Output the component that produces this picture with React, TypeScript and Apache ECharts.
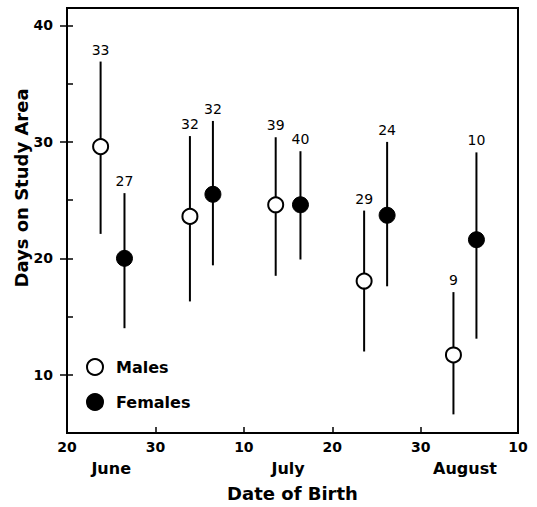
import React, { useEffect, useRef } from "react";
import * as echarts from "echarts";

// x value: June d = d, July d = 30 + d, August d = 61 + d
const maleDates = [23.8, 33.9, 43.6, 53.6, 63.7];
const maleMeans = [29.6, 23.6, 24.6, 18.05, 11.7];
const maleLow = [22.1, 16.3, 18.5, 12.0, 6.6];
const maleHigh = [36.9, 30.5, 30.4, 24.1, 17.1];
const maleN = [33, 32, 39, 29, 9];

const femaleDates = [26.5, 36.5, 46.4, 56.2, 66.3];
const femaleMeans = [20.0, 25.5, 24.6, 23.7, 21.6];
const femaleLow = [14.0, 19.4, 19.9, 17.6, 13.1];
const femaleHigh = [25.6, 31.8, 29.2, 30.0, 29.1];
const femaleN = [27, 32, 40, 24, 10];

const xTicks = [20, 30, 40, 50, 60, 71];
const monthNames = ["June", "July", "August"];
const monthCenters = [25, 45, 65];
const yLabelTicks = [10, 20, 30, 40];
const yMinorTicks = [10, 15, 20, 25, 30, 35, 40];

const FONT = "DejaVu Sans";

function dayLabel(v: number): string {
  if (v <= 30) return String(v);
  if (v <= 61) return String(v - 30);
  return String(v - 61);
}

export default function App() {
  const ref = useRef<HTMLDivElement>(null);
  useEffect(() => {
    if (!ref.current) return;
    const chart = echarts.init(ref.current, undefined, { renderer: "svg" });
    const barData = [
      ...maleDates.map((d, i) => [d, maleLow[i], maleHigh[i], maleN[i]]),
      ...femaleDates.map((d, i) => [d, femaleLow[i], femaleHigh[i], femaleN[i]]),
    ];
    const line = { color: "#000", width: 2 };
    chart.setOption({
      animation: false,
      backgroundColor: "#fff",
      grid: {
        left: 67,
        right: 19,
        top: 8,
        bottom: 73,
        show: true,
        borderColor: "#000",
        borderWidth: 2,
        backgroundColor: "transparent",
      },
      legend: {
        orient: "vertical",
        left: 81,
        top: 353,
        itemWidth: 16,
        itemHeight: 16,
        itemGap: 17,
        selectedMode: false,
        data: ["Males", "Females"],
        textStyle: {
          fontFamily: FONT,
          fontWeight: "bold",
          fontSize: 16,
          color: "#000",
          padding: [0, 0, 0, 8],
        },
      },
      xAxis: [
        {
          type: "value",
          min: 20,
          max: 71,
          position: "bottom",
          axisLine: { show: true, onZero: false, lineStyle: line },
          axisTick: {
            show: true,
            inside: true,
            length: 6,
            customValues: xTicks,
            lineStyle: { color: "#000", width: 1.5 },
          },
          axisLabel: {
            customValues: xTicks,
            formatter: (v: number) => dayLabel(v),
            margin: 7,
            color: "#000",
            fontFamily: FONT,
            fontWeight: "bold",
            fontSize: 14,
          },
          splitLine: { show: false },
          name: "Date of Birth",
          nameLocation: "middle",
          nameGap: 51,
          nameTextStyle: {
            fontFamily: FONT,
            fontWeight: "bold",
            fontSize: 18,
            color: "#000",
          },
        },
        {
          type: "value",
          min: 20,
          max: 71,
          position: "bottom",
          axisLine: { show: false, onZero: false },
          axisTick: { show: false },
          axisLabel: {
            customValues: monthCenters,
            formatter: (v: number) => monthNames[monthCenters.indexOf(v)] ?? "",
            margin: 27,
            color: "#000",
            fontFamily: FONT,
            fontWeight: "bold",
            fontSize: 16,
          },
          splitLine: { show: false },
        },
      ],
      yAxis: [
        {
          type: "value",
          min: 5,
          max: 41.5,
          position: "left",
          axisLine: { show: true, onZero: false, lineStyle: line },
          axisTick: {
            show: true,
            inside: true,
            length: 6,
            customValues: yMinorTicks,
            lineStyle: { color: "#000", width: 1.5 },
          },
          axisLabel: {
            customValues: yLabelTicks,
            margin: 14,
            color: "#000",
            fontFamily: FONT,
            fontWeight: "bold",
            fontSize: 14,
          },
          splitLine: { show: false },
        },
        {
          type: "value",
          min: 5,
          max: 41.5,
          position: "left",
          axisLine: { show: false, onZero: false },
          axisTick: {
            show: true,
            inside: false,
            length: 7,
            customValues: yLabelTicks,
            lineStyle: { color: "#000", width: 1.5 },
          },
          axisLabel: { show: false },
          splitLine: { show: false },
        },
      ],
      graphic: [
        {
          type: "text",
          x: 21,
          y: 188,
          rotation: Math.PI / 2,
          style: {
            text: "Days on Study Area",
            align: "center",
            verticalAlign: "middle",
            fill: "#000",
            font: `bold 18px "${FONT}"`,
          },
        },
      ],
      series: [
        {
          type: "custom",
          name: "ranges",
          xAxisIndex: 0,
          yAxisIndex: 0,
          data: barData,
          encode: { x: 0, y: [1, 2] },
          z: 1,
          renderItem: (_params: any, api: any) => {
            const x = api.value(0);
            const lo = api.value(1);
            const hi = api.value(2);
            const n = api.value(3);
            const pLo = api.coord([x, lo]);
            const pHi = api.coord([x, hi]);
            return {
              type: "group",
              children: [
                {
                  type: "line",
                  shape: { x1: pLo[0], y1: pLo[1], x2: pHi[0], y2: pHi[1] },
                  style: { stroke: "#000", lineWidth: 2 },
                },
                {
                  type: "text",
                  x: pHi[0],
                  y: pHi[1] - 12,
                  style: {
                    text: String(n),
                    fill: "#000",
                    font: `14px "${FONT}"`,
                    align: "center",
                    verticalAlign: "middle",
                  },
                },
              ],
            };
          },
        },
        {
          type: "scatter",
          name: "Males",
          xAxisIndex: 0,
          yAxisIndex: 0,
          data: maleDates.map((d, i) => [d, maleMeans[i]]),
          symbol: "circle",
          symbolSize: 15,
          z: 3,
          itemStyle: { color: "#fff", borderColor: "#000", borderWidth: 2, opacity: 1 },
        },
        {
          type: "scatter",
          name: "Females",
          xAxisIndex: 0,
          yAxisIndex: 0,
          data: femaleDates.map((d, i) => [d, femaleMeans[i]]),
          symbol: "circle",
          symbolSize: 16,
          z: 3,
          itemStyle: { color: "#000", borderColor: "#000", borderWidth: 1, opacity: 1 },
        },
      ],
    });
    return () => chart.dispose();
  }, []);
  return (
    <div
      ref={ref}
      style={{ position: "fixed", left: 0, top: 0, width: 537, height: 507 }}
    />
  );
}
